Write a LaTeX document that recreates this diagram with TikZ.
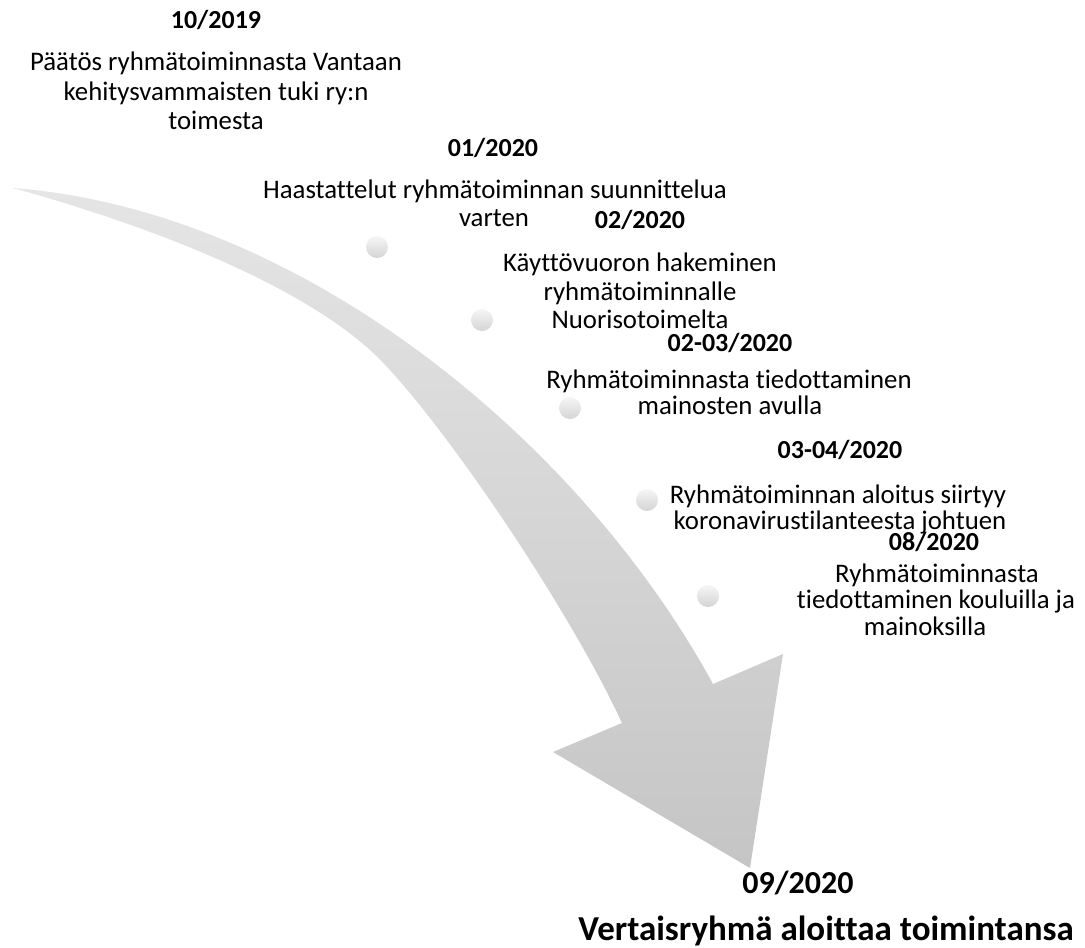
\documentclass[tikz,border=0pt]{standalone}
\usepackage{fontspec}
\setmainfont{Carlito}[Ligatures={CommonOff}]
\definecolor{arrtop}{RGB}{229,229,229}
\definecolor{arrbot}{RGB}{197,197,197}
\definecolor{dottop}{RGB}{246,246,246}
\definecolor{dotbot}{RGB}{212,212,212}
\tikzset{
  lbl/.style={anchor=base, inner sep=0pt, font=\fontsize{26.8}{28.5}\selectfont},
  datelbl/.style={anchor=base, inner sep=0pt, font=\bfseries\fontsize{26}{28.5}\selectfont},
  finaldate/.style={anchor=base, inner sep=0pt, font=\bfseries\fontsize{32}{36}\selectfont},
  finaltxt/.style={anchor=base, inner sep=0pt, font=\bfseries\fontsize{35}{40}\selectfont},
  dotball/.style={circle, minimum size=22pt, inner sep=0pt, draw=none, top color=dottop, bottom color=dotbot},
  arrowbody/.style={top color=arrtop, bottom color=arrbot, draw=none}
}
\begin{document}
\begin{tikzpicture}[x=1pt,y=-1pt]
\useasboundingbox (0,0) rectangle (1085,948);
% curved arrow
\shade[arrowbody] (13,188) .. controls (300,210) and (580,440) .. (713,684)
  -- (783,654) -- (750,868) -- (553,752) -- (622,723)
  .. controls (565,600) and (430,404) .. (370,350)
  .. controls (280,269) and (100,212) .. (13,188) -- cycle;
% dots
\node[dotball] (p1) at (377,247) {};
\node[dotball] (p2) at (482,320) {};
\node[dotball] (p3) at (570,408) {};
\node[dotball] (p4) at (647,500) {};
\node[dotball] (p5) at (708,596) {};
% block 1
\node[datelbl] (d1) at (216,28) {10/2019};
\node[lbl] (t1a) at (216,70) {Päätös ryhmätoiminnasta Vantaan};
\node[lbl] (t1b) at (216,100) {kehitysvammaisten tuki ry:n};
\node[lbl] (t1c) at (216,129) {toimesta};
% block 2
\node[datelbl] (d2) at (493,156) {01/2020};
\node[lbl] (t2a) at (495,198) {Haastattelut ryhmätoiminnan suunnittelua};
\node[lbl] (t2b) at (494,226) {varten};
% block 3
\node[datelbl] (d3) at (640,228) {02/2020};
\node[lbl] (t3a) at (640,271) {Käyttövuoron hakeminen};
\node[lbl] (t3b) at (640,300) {ryhmätoiminnalle};
\node[lbl] (t3c) at (640,328) {Nuorisotoimelta};
% block 4
\node[datelbl] (d4) at (730,351) {02-03/2020};
\node[lbl] (t4a) at (729,388) {Ryhmätoiminnasta tiedottaminen};
\node[lbl] (t4b) at (730,414) {mainosten avulla};
% block 5
\node[datelbl] (d5) at (840,458) {03-04/2020};
\node[lbl] (t5a) at (838,503) {Ryhmätoiminnan aloitus siirtyy};
\node[lbl] (t5b) at (840,529) {koronavirustilanteesta johtuen};
% block 6
\node[datelbl] (d6) at (934,550) {08/2020};
\node[lbl] (t6a) at (937,582) {Ryhmätoiminnasta};
\node[lbl] (t6b) at (936,608) {tiedottaminen kouluilla ja};
\node[lbl] (t6c) at (925,635) {mainoksilla};
% final
\node[finaldate] (d7) at (798,893) {09/2020};
\node[finaltxt] (t7) at (826,940) {Vertaisryhmä aloittaa toimintansa};
\end{tikzpicture}
\end{document}
